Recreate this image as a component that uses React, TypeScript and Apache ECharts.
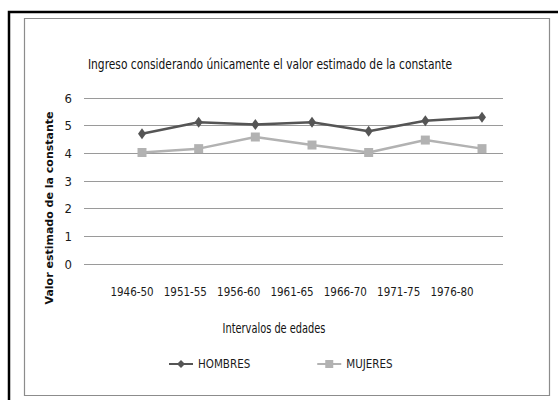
import React, { useEffect, useRef } from "react";
import * as echarts from "echarts";

const categories = ["1946-50", "1951-55", "1956-60", "1961-65", "1966-70", "1971-75", "1976-80"];
const hombres = [4.71, 5.12, 5.04, 5.12, 4.8, 5.18, 5.3];
const mujeres = [4.03, 4.17, 4.59, 4.3, 4.03, 4.48, 4.17];
const yTicks = { min: 0, max: 6, interval: 1 };
const titleText = "Ingreso considerando únicamente el valor estimado de la constante";
const yName = "Valor estimado de la constante";
const xName = "Intervalos de edades";

const NARROW = "'Liberation Sans Narrow', 'DejaVu Sans Condensed', 'Roboto Condensed', sans-serif";

export default function App() {
  const ref = useRef<HTMLDivElement>(null);
  useEffect(() => {
    if (!ref.current) return;
    const chart = echarts.init(ref.current, undefined, { renderer: "svg" });
    const gridBase = { top: 98, height: 166 };
    chart.setOption({
      animation: false,
      backgroundColor: "#ffffff",
      grid: [
        { ...gridBase, left: 84, width: 419 },
        { ...gridBase, left: 142, width: 340 },
        { ...gridBase, left: 132, width: 320 },
      ],
      xAxis: [
        { type: "category", gridIndex: 0, data: categories, show: false },
        { type: "category", gridIndex: 1, data: categories, boundaryGap: false, show: false },
        {
          type: "category",
          gridIndex: 2,
          data: categories,
          boundaryGap: false,
          axisLine: { show: false },
          axisTick: { show: false },
          axisLabel: { margin: 22, fontFamily: NARROW, fontSize: 11.5, color: "#1a1a1a", interval: 0 },
        },
      ],
      yAxis: [
        {
          type: "value",
          gridIndex: 0,
          ...yTicks,
          axisLine: { show: false },
          axisTick: { show: false },
          splitLine: { lineStyle: { color: "#9a9a9a", width: 1 } },
          axisLabel: { margin: 12, fontFamily: NARROW, fontSize: 13, color: "#1a1a1a" },
        },
        { type: "value", gridIndex: 1, ...yTicks, show: false, splitLine: { show: false } },
        { type: "value", gridIndex: 2, ...yTicks, show: false, splitLine: { show: false } },
      ],
      legend: {
        data: ["HOMBRES", "MUJERES"],
        left: 163,
        top: 353,
        itemWidth: 24,
        itemHeight: 10,
        itemGap: 66,
        textStyle: { fontFamily: NARROW, fontSize: 11.5, color: "#1a1a1a" },
      },
      series: [
        {
          name: "HOMBRES",
          type: "line",
          xAxisIndex: 1,
          yAxisIndex: 1,
          data: hombres,
          symbol: "diamond",
          symbolSize: [8, 11],
          color: "#555555",
          lineStyle: { color: "#555555", width: 2.5 },
          itemStyle: { color: "#555555" },
        },
        {
          name: "MUJERES",
          type: "line",
          xAxisIndex: 1,
          yAxisIndex: 1,
          data: mujeres,
          symbol: "rect",
          symbolSize: 9,
          color: "#b2b2b2",
          lineStyle: { color: "#b2b2b2", width: 2.5 },
          itemStyle: { color: "#b2b2b2" },
        },
      ],
      graphic: [
        {
          type: "rect",
          shape: { x: 9, y: 12, width: 700, height: 600 },
          style: { fill: "none", stroke: "#000", lineWidth: 2.5 },
          silent: true,
        },
        {
          type: "rect",
          shape: { x: 24.5, y: 18.5, width: 525, height: 377 },
          style: { fill: "none", stroke: "#8c8c8c", lineWidth: 1.2 },
          silent: true,
        },
        {
          type: "text",
          x: 270,
          y: 64,
          scaleX: 0.82,
          style: {
            text: titleText,
            align: "center",
            verticalAlign: "middle",
            fontFamily: NARROW,
            fontSize: 14.5,
            fill: "#111",
          },
        },
        {
          type: "text",
          x: 49,
          y: 208,
          rotation: Math.PI / 2,
          style: {
            text: yName,
            align: "center",
            verticalAlign: "middle",
            fontFamily: "'DejaVu Sans', sans-serif",
            fontWeight: "bold",
            fontSize: 11,
            fill: "#111",
          },
        },
        {
          type: "text",
          x: 274,
          y: 328,
          scaleX: 0.78,
          style: {
            text: xName,
            align: "center",
            verticalAlign: "middle",
            fontFamily: NARROW,
            fontSize: 14,
            fill: "#111",
          },
        },
      ],
    });
    return () => chart.dispose();
  }, []);
  return (
    <div
      ref={ref}
      style={{ position: "fixed", left: 0, top: 0, width: 558, height: 400 }}
    />
  );
}
